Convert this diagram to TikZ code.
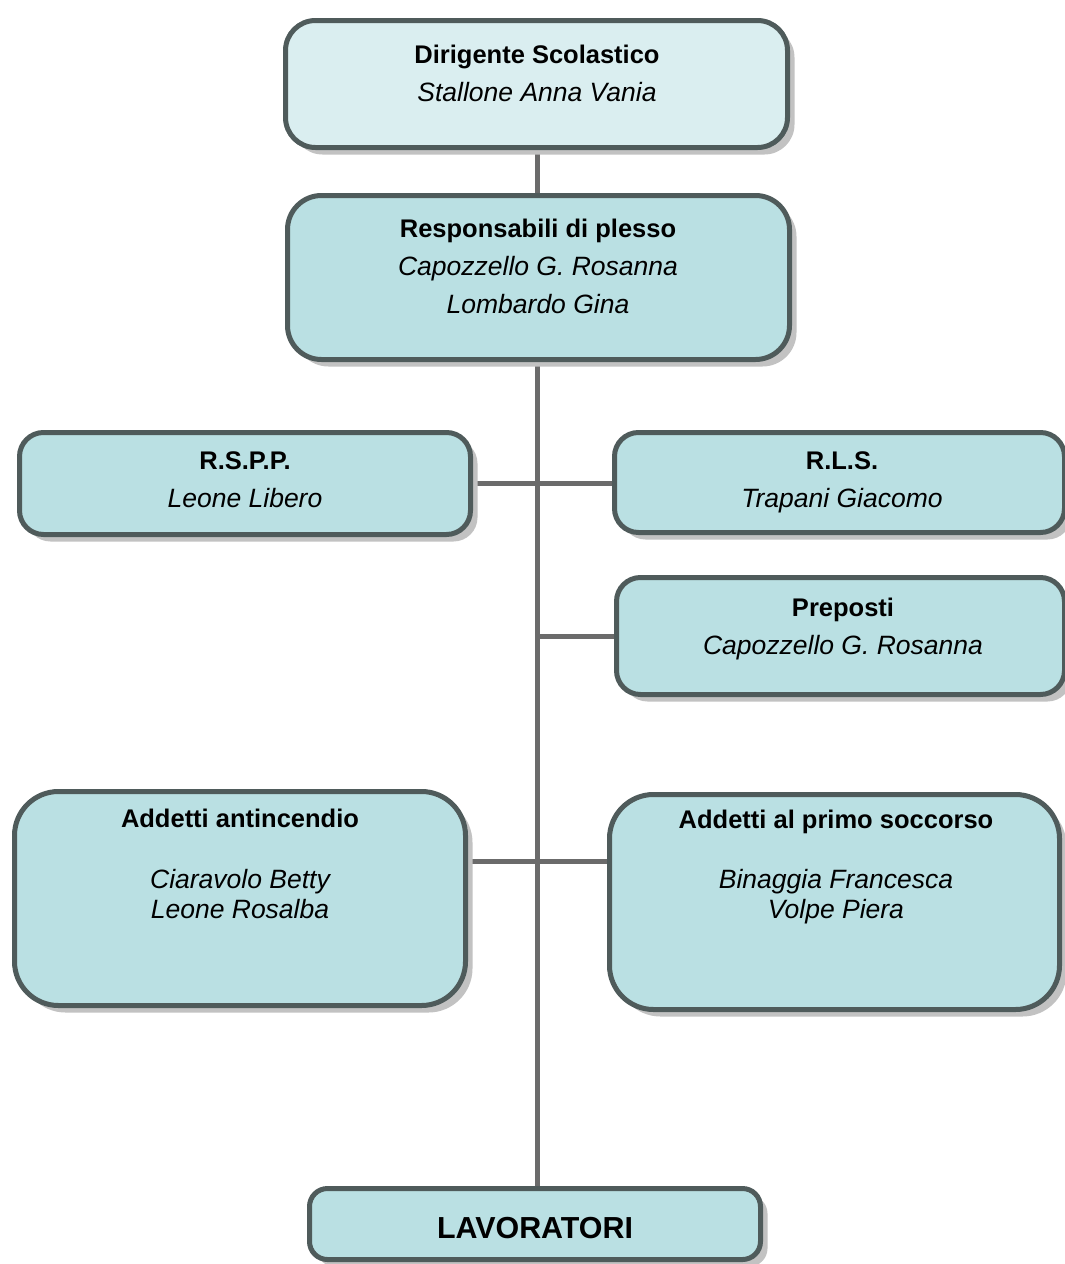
\documentclass[tikz,border=0pt]{standalone}
\usepackage{fontspec}
\setmainfont{Liberation Sans}
\usetikzlibrary{shadows,backgrounds}

\definecolor{boxpale}{HTML}{DAEEF0}
\definecolor{boxfill}{HTML}{BAE0E3}
\definecolor{boxline}{HTML}{4F5B5B}
\definecolor{linkgray}{HTML}{6B6B6B}
\definecolor{shadowgray}{HTML}{C2C2C2}

\newcommand\nm[1]{{\fontsize{26.5}{38}\selectfont\itshape #1}}

\tikzset{
  orgbox/.style={draw=boxline, line width=5pt, fill=boxfill, rounded corners=24pt,
    inner sep=0pt,
    drop shadow={shadow xshift=7pt, shadow yshift=-7pt, fill=shadowgray, opacity=1}},
  boxtext/.style={font=\fontsize{25.5}{38}\selectfont, align=center, inner sep=0pt},
  namelist/.style={font=\fontsize{26.5}{30}\selectfont\itshape, align=center, inner sep=0pt},
  link/.style={draw=linkgray, line width=5pt}
}

\begin{document}
\begin{tikzpicture}[x=1pt,y=-1pt]
\useasboundingbox (0,0) rectangle (1065,1264);

% boxes
\node[orgbox, fill=boxpale, minimum width=502pt, minimum height=127pt, rounded corners=30pt] (dir) at (536.5,84) {};
\node[orgbox, minimum width=502pt, minimum height=164pt, rounded corners=34pt] (resp) at (538.5,277.5) {};
\node[orgbox, minimum width=451pt, minimum height=102pt] (rspp) at (245,483.5) {};
\node[orgbox, minimum width=450pt, minimum height=100pt] (rls) at (839.5,482.5) {};
\node[orgbox, minimum width=448pt, minimum height=117pt] (prep) at (840.5,636) {};
\node[orgbox, minimum width=451pt, minimum height=214pt, rounded corners=44pt] (anti) at (240,898.5) {};
\node[orgbox, minimum width=450pt, minimum height=215pt, rounded corners=44pt] (primo) at (834.5,902) {};
\node[orgbox, minimum width=451pt, minimum height=71pt, rounded corners=18pt] (lav) at (535,1224) {};

% texts
\node[boxtext] (dirtext) at (537,73) {\textbf{Dirigente Scolastico}\\\nm{Stallone Anna Vania}};
\node[boxtext] (resptext) at (538,266) {\textbf{Responsabili di plesso}\\\nm{Capozzello G. Rosanna}\\\nm{Lombardo Gina}};
\node[boxtext] (rspptext) at (245,480) {\textbf{R.S.P.P.}\\\nm{Leone Libero}};
\node[boxtext] (rlstext) at (842,482) {\textbf{R.L.S.}\\\nm{Trapani Giacomo}};
\node[boxtext] (preptext) at (843,629) {\textbf{Preposti}\\\nm{Capozzello G. Rosanna}};
\node[boxtext, font=\fontsize{25.5}{38}\selectfont\bfseries] (antititle) at (240,818) {Addetti antincendio};
\node[namelist] (antinames) at (240,894) {Ciaravolo Betty\\Leone Rosalba};
\node[boxtext, font=\fontsize{25.5}{38}\selectfont\bfseries] (primotitle) at (836,822) {Addetti al primo soccorso};
\node[namelist] (primonames) at (836,897) {Binaggia Francesca\\Volpe Piera};
\node[boxtext, font=\fontsize{30.4}{38}\selectfont\bfseries] (lavtext) at (535,1228) {LAVORATORI};

% connectors
\coordinate (trunk) at (537,0);
\coordinate (j1) at (537,483);
\coordinate (j2) at (537,861);
\begin{scope}[on background layer]
\draw[link] (trunk |- dir.south) -- (trunk |- lav.north);
\draw[link] (j1 -| rspp.east) -- (j1 -| rls.west);
\draw[link] (prep.west) -- (trunk |- prep.west);
\draw[link] (j2 -| anti.east) -- (j2 -| primo.west);
\end{scope}
\end{tikzpicture}
\end{document}
